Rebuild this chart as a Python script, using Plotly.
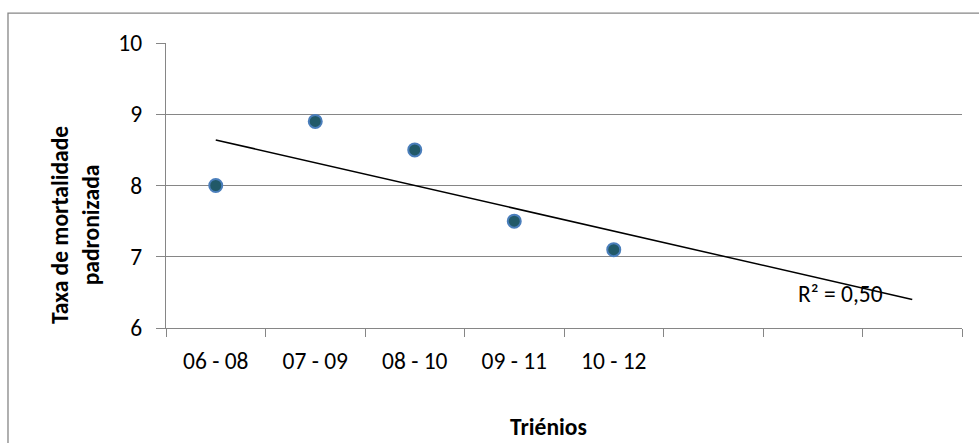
import numpy as np
import plotly.graph_objects as go

# Data
categories = ["06 - 08", "07 - 09", "08 - 10", "09 - 11", "10 - 12"]
taxa = [8.0, 8.9, 8.5, 7.5, 7.1]
n_slots = 8  # axis shows 8 category slots (trend forecast forward)
r2_label = "R² = 0,50"
y_ticks = [6, 7, 8, 9, 10]

x_idx = np.arange(1, len(categories) + 1)
slope, intercept = np.polyfit(x_idx, taxa, 1)
x_trend = np.array([1, n_slots])
y_trend = slope * x_trend + intercept

GRAY = "#868686"
FONT = "Carlito, Calibri, Lato, sans-serif"
FS = 23.5

fig = go.Figure()
fig.add_trace(go.Scatter(
    x=x_trend, y=y_trend, mode="lines",
    line=dict(color="black", width=1.5), showlegend=False, hoverinfo="skip"))
fig.add_trace(go.Scatter(
    x=x_idx, y=taxa, mode="markers",
    marker=dict(size=13, color="#215968", line=dict(color="#4A7EBB", width=2)),
    showlegend=False))

fig.update_layout(
    width=979, height=443,
    margin=dict(l=166, r=17, t=43, b=115),
    paper_bgcolor="white", plot_bgcolor="white",
    font=dict(family=FONT, size=FS, color="black"),
    xaxis=dict(
        range=[0.5, n_slots + 0.5], tickmode="array", tickvals=list(x_idx),
        ticktext=categories, ticks="", showgrid=False, zeroline=False,
        showline=True, linecolor=GRAY, linewidth=1.3,
        ticklabelstandoff=12,
        minor=dict(tick0=0.5, dtick=1, ticks="outside", ticklen=8,
                   tickcolor=GRAY, tickwidth=1.3, showgrid=False),
    ),
    yaxis=dict(
        range=[6, 10], tickvals=y_ticks, ticks="outside", ticklen=9,
        tickcolor=GRAY, tickwidth=1.3, showgrid=True, gridcolor=GRAY,
        gridwidth=1.3, zeroline=False, showline=True, linecolor=GRAY,
        linewidth=1.3, ticklabelstandoff=9,
    ),
    shapes=[dict(type="rect", xref="paper", yref="paper",
                 x0=-0.1985, x1=1.2, y0=-0.6, y1=1.105,
                 line=dict(color=GRAY, width=1.3), layer="below")],
    annotations=[
        dict(text="<b>Taxa de mortalidade<br>padronizada</b>", textangle=-90,
             xref="paper", yref="paper", x=-0.1143, y=0.3614,
             xanchor="center", yanchor="middle", showarrow=False,
             font=dict(size=FS)),
        dict(text="<b>Triénios</b>", xref="paper", yref="paper",
             x=0.481, y=-0.4035, xanchor="center", yanchor="bottom",
             showarrow=False, font=dict(size=FS)),
        dict(text=r2_label, xref="x", yref="y", x=7.28, y=6.484,
             xanchor="center", yanchor="middle", showarrow=False,
             font=dict(size=FS)),
    ],
)

fig.write_html(
    "out.html",
    config={"displayModeBar": False},
    post_script="document.body.style.margin='0';document.body.style.overflow='hidden';",
)
